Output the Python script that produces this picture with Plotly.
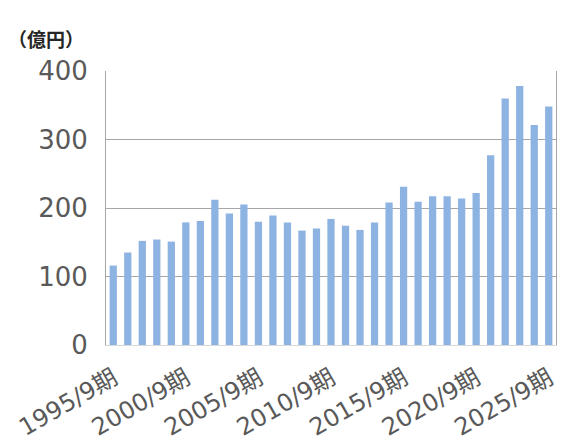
import plotly.graph_objects as go

years = list(range(1995, 2026))
categories = [f"{y}/9期" for y in years]
values = [116, 135, 152, 154, 151, 179, 181, 212, 192, 205, 180, 189, 179, 167, 170, 184,
          174, 168, 179, 208, 231, 209, 217, 217, 214, 222, 277, 360, 378, 321, 348]
tick_labels = [c for y, c in zip(years, categories) if y % 5 == 0]
y_ticks = [0, 100, 200, 300, 400]

font_family = "DejaVu Sans, Noto Sans CJK JP, sans-serif"
text_color = "#595959"

fig = go.Figure()
fig.add_trace(go.Bar(x=categories, y=values, marker=dict(color="#8DB3E2", line=dict(width=0))))

fig.update_layout(
    width=584, height=444,
    margin=dict(l=106, r=28, t=71, b=99, autoexpand=False),
    paper_bgcolor="white", plot_bgcolor="white",
    bargap=0.5, showlegend=False,
    font=dict(family=font_family, color=text_color),
    annotations=[dict(text="<b>（億円）</b>", xref="paper", yref="paper", x=-0.222, y=1.12,
                      xanchor="left", yanchor="middle", showarrow=False,
                      font=dict(size=19, color="#262626", family="Noto Sans CJK JP"))],
)
fig.update_xaxes(
    type="category", categoryorder="array", categoryarray=categories,
    tickvals=tick_labels, ticktext=tick_labels, tickangle=-30,
    tickfont=dict(size=24, color=text_color),
    showline=True, linecolor="#D9D9D9", linewidth=1, mirror=False,
    showgrid=False, ticks="", automargin=False, ticklabelstandoff=9,
)
fig.update_yaxes(
    range=[0, 400], tickvals=y_ticks, ticktext=[str(v) for v in y_ticks],
    tickfont=dict(size=26, color=text_color),
    showgrid=True, gridcolor="#A6A6A6", gridwidth=1,
    showline=True, linecolor="#A6A6A6", linewidth=1, mirror=True,
    zeroline=False, ticks="", ticklabelstandoff=12, automargin=False,
)
fig.write_html("out.html", post_script="document.body.style.margin='0';",
               config={"displayModeBar": False})
